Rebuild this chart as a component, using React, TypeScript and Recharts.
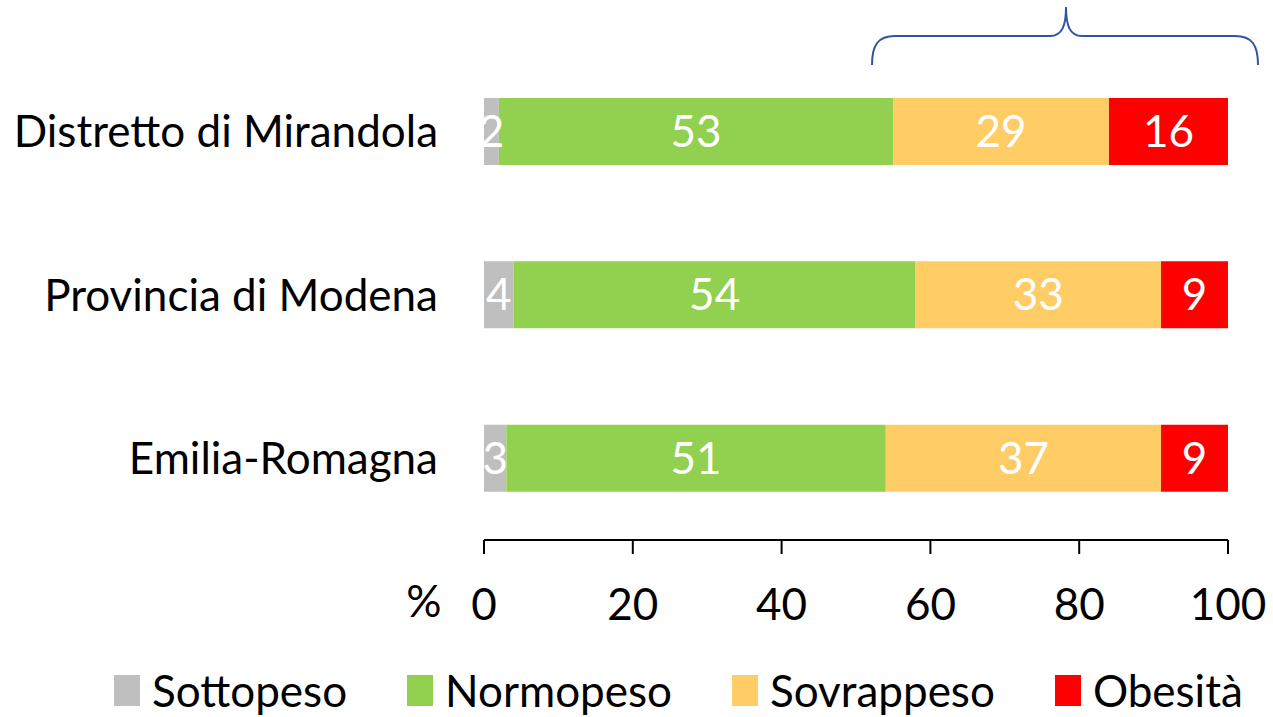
import React from 'react';
import { BarChart, Bar, XAxis, YAxis, LabelList } from 'recharts';

const categories = ['Distretto di Mirandola', 'Provincia di Modena', 'Emilia-Romagna'];
const sottopeso = [2, 4, 3];
const normopeso = [53, 54, 51];
const sovrappeso = [29, 33, 37];
const obesita = [16, 9, 9];
const xTicks = [0, 20, 40, 60, 80, 100];

const SERIES = [
  { key: 'sottopeso', name: 'Sottopeso', color: '#BFBFBF' },
  { key: 'normopeso', name: 'Normopeso', color: '#92D050' },
  { key: 'sovrappeso', name: 'Sovrappeso', color: '#FFCC66' },
  { key: 'obesita', name: 'Obesità', color: '#FF0000' },
];

const data = categories.map((name, i) => ({
  name,
  sottopeso: sottopeso[i],
  normopeso: normopeso[i],
  sovrappeso: sovrappeso[i],
  obesita: obesita[i],
}));

const FONT = 'Lato, "Open Sans", sans-serif';
const FS = 44;

const XTick = ({ x, y, payload }: any) => (
  <text x={x} y={y} textAnchor="middle" dominantBaseline="central" fontSize={FS} fontFamily={FONT} fill="#000">
    {payload.value}
  </text>
);

const App = () => (
  <div style={{ position: 'absolute', left: 0, top: 0, width: 1273, height: 717, background: '#fff', fontFamily: FONT }}>
    <BarChart
      width={1273}
      height={717}
      data={data}
      layout="vertical"
      barSize={67}
      margin={{ top: 50, right: 45, bottom: 87, left: 0 }}
    >
      <XAxis
        type="number"
        domain={[0, 100]}
        ticks={xTicks}
        height={90}
        axisLine={{ stroke: '#000', strokeWidth: 2 }}
        tickLine={{ stroke: '#000', strokeWidth: 2 }}
        tickSize={14}
        tickMargin={49}
        tick={<XTick />}
        label={(props: any) => (
          <text x={props.viewBox.x - 60} y={600} textAnchor="middle" dominantBaseline="central" fontSize={FS} fontFamily={FONT} fill="#000">
            %
          </text>
        )}
      />
      <YAxis
        type="category"
        dataKey="name"
        width={484}
        axisLine={false}
        tickLine={false}
        tickSize={0}
        tickMargin={46}
        tick={{ fill: '#000', fontSize: FS, fontFamily: FONT }}
      />
      {SERIES.map((s) => (
        <Bar key={s.key} dataKey={s.key} stackId="a" fill={s.color} isAnimationActive={false}>
          <LabelList dataKey={s.key} position="center" fill="#fff" fontSize={FS} fontFamily={FONT} />
        </Bar>
      ))}
    </BarChart>

    {/* curly brace above the overweight + obese segments */}
    <svg width={1273} height={80} style={{ position: 'absolute', left: 0, top: 0, pointerEvents: 'none' }}>
      <path
        d="M872 65 C872 45 878 36 895 36 L1050 36 C1062 36 1066 26 1066 7 C1066 26 1070 36 1082 36 L1235 36 C1252 36 1258 45 1258 65"
        fill="none"
        stroke="#2F55A4"
        strokeWidth={2}
      />
    </svg>

    <div style={{ position: 'absolute', left: 114, top: 667, display: 'flex', alignItems: 'center', gap: 60 }}>
      {SERIES.map((s) => (
        <div key={s.key} style={{ display: 'flex', alignItems: 'center', gap: 12 }}>
          <span style={{ display: 'inline-block', width: 26, height: 31, background: s.color }} />
          <span style={{ fontSize: 44, lineHeight: '46px', color: '#000' }}>{s.name}</span>
        </div>
      ))}
    </div>
  </div>
);

export default App;
